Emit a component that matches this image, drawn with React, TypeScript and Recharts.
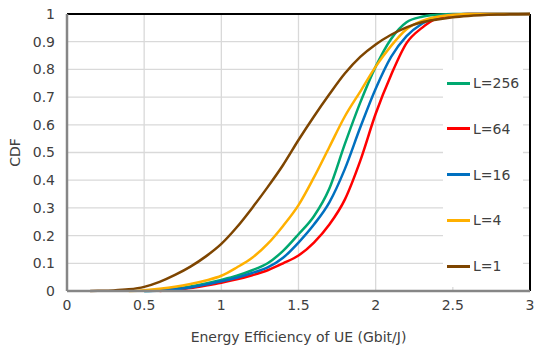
import { LineChart, Line, XAxis, YAxis, CartesianGrid, ReferenceLine } from "recharts";

const XS = [0.15, 0.2, 0.3, 0.4, 0.5, 0.6, 0.7, 0.8, 0.9, 1.0, 1.1, 1.2, 1.3, 1.4, 1.5, 1.6, 1.7, 1.8, 1.9, 2.0, 2.1, 2.2, 2.3, 2.4, 2.5, 2.6, 2.8, 3.0];

const L256 = [null, null, null, null, 0, 0.003, 0.008, 0.016, 0.027, 0.04, 0.055, 0.075, 0.1, 0.145, 0.205, 0.27, 0.37, 0.53, 0.68, 0.81, 0.91, 0.97, 0.99, 0.997, 1, 1, 1, 1];
const L64 = [null, null, null, null, null, 0, 0.005, 0.011, 0.02, 0.03, 0.042, 0.057, 0.075, 0.1, 0.128, 0.175, 0.24, 0.33, 0.47, 0.64, 0.78, 0.895, 0.95, 0.985, 0.996, 1, 1, 1];
const L16 = [null, null, null, null, 0, 0.002, 0.006, 0.013, 0.023, 0.035, 0.048, 0.065, 0.085, 0.12, 0.175, 0.24, 0.32, 0.44, 0.59, 0.73, 0.845, 0.92, 0.965, 0.99, 0.998, 1, 1, 1];
const L4 = [null, null, null, 0, 0.003, 0.008, 0.015, 0.025, 0.038, 0.055, 0.085, 0.12, 0.17, 0.235, 0.31, 0.41, 0.52, 0.63, 0.72, 0.81, 0.885, 0.945, 0.975, 0.99, 0.997, 1, 1, 1];
const L1 = [0, 0.0005, 0.002, 0.006, 0.015, 0.033, 0.058, 0.088, 0.125, 0.17, 0.23, 0.3, 0.375, 0.455, 0.545, 0.63, 0.71, 0.785, 0.845, 0.89, 0.925, 0.952, 0.97, 0.98, 0.988, 0.993, 0.998, 1];

const X_TICKS = [0, 0.5, 1, 1.5, 2, 2.5, 3];
const Y_TICKS = [0, 0.1, 0.2, 0.3, 0.4, 0.5, 0.6, 0.7, 0.8, 0.9, 1];

const SERIES = [
  { key: "L256", name: "L=256", color: "#00a870", values: L256 },
  { key: "L64", name: "L=64", color: "#ff0000", values: L64 },
  { key: "L16", name: "L=16", color: "#0070c0", values: L16 },
  { key: "L4", name: "L=4", color: "#ffb000", values: L4 },
  { key: "L1", name: "L=1", color: "#7e4500", values: L1 },
];

const data = XS.map((x, i) => {
  const row: Record<string, number | null> = { x };
  SERIES.forEach((s) => (row[s.key] = s.values[i]));
  return row;
});

const FONT = "'DejaVu Sans', Verdana, sans-serif";
const TEXT = "#404040";

function LegendBox() {
  return (
    <div style={{ position: "absolute", left: 443, top: 60, background: "#fff", width: 80, height: 227 }}>
      {SERIES.map((s, i) => (
        <div
          key={s.key}
          style={{ position: "absolute", left: 4, top: 23 + i * 45.8 - 10, height: 20, display: "flex", alignItems: "center", fontFamily: FONT, fontSize: 14, color: TEXT, whiteSpace: "nowrap" }}
        >
          <span style={{ display: "inline-block", width: 23, height: 3, background: s.color, marginRight: 3 }} />
          {s.name}
        </div>
      ))}
    </div>
  );
}

export default function App() {
  return (
    <div style={{ position: "relative", width: 536, height: 348 }}>
      <style>{"body{margin:0}"}</style>
      <LineChart width={536} height={348} data={data} margin={{ top: 14, right: 6, bottom: 0, left: 0 }}>
        <CartesianGrid stroke="#d9d9d9" strokeWidth={1.3} />
        <XAxis
          dataKey="x"
          type="number"
          domain={[0, 3]}
          ticks={X_TICKS}
          height={57}
          stroke="#868686"
          strokeWidth={2.5}
          tickLine={false}
          tickSize={0}
          tickMargin={9}
          tick={{ fill: TEXT, fontSize: 14, fontFamily: FONT }}
          label={{ value: "Energy Efficiency of UE (Gbit/J)", position: "insideBottom", offset: 6, fill: TEXT, fontSize: 14, fontFamily: FONT }}
        />
        <YAxis
          type="number"
          domain={[0, 1]}
          ticks={Y_TICKS}
          width={67}
          stroke="#868686"
          strokeWidth={2.5}
          tickLine={false}
          tickSize={0}
          tickMargin={12}
          tick={{ fill: TEXT, fontSize: 14, fontFamily: FONT }}
          label={{ value: "CDF", angle: -90, position: "insideLeft", offset: 15, fill: TEXT, fontSize: 14, fontFamily: FONT, style: { textAnchor: "middle" } }}
        />
        <ReferenceLine y={1} stroke="#000" strokeWidth={2} />
        <ReferenceLine x={3} stroke="#000" strokeWidth={2} />
        {SERIES.map((s) => (
          <Line
            key={s.key}
            dataKey={s.key}
            name={s.name}
            type="monotone"
            stroke={s.color}
            strokeWidth={2.5}
            dot={false}
            isAnimationActive={false}
          />
        ))}
      </LineChart>
      <LegendBox />
    </div>
  );
}
